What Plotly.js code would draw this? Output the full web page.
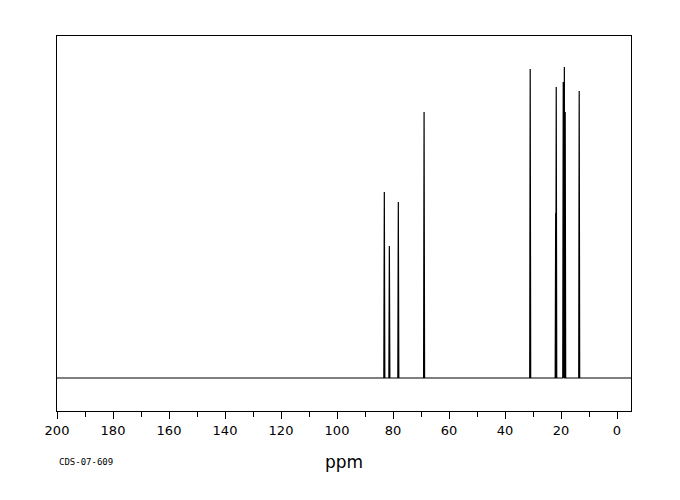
<!DOCTYPE html>
<html><head><meta charset="utf-8">
<script src="https://cdn.plot.ly/plotly-3.0.1.min.js"></script>
<style>body{margin:0;background:#fff}#c{width:680px;height:500px}</style>
</head><body><div id="c"></div>
<script>
// Peak positions (ppm) and heights (arbitrary intensity, baseline = 0)
const peakPpm    = [83.1, 81.3, 78.1, 68.9, 31.0, 21.9, 21.7, 19.2, 18.8, 18.5, 13.5];
const peakHeight = [186,  132,  176,  266,  309,  165,  291,  296,  311,  266,  287];
const xStart = 200, xEnd = -5;
const tickVals = [200,180,160,140,120,100,80,60,40,20,0];

// build spectrum trace from peak list
const order = peakPpm.map((p,i)=>i).sort((a,b)=>peakPpm[b]-peakPpm[a]);
const xs = [xStart], ys = [0];
const hw = 0.18;
order.forEach(i=>{
  xs.push(peakPpm[i]+hw, peakPpm[i], peakPpm[i]-hw);
  ys.push(0, peakHeight[i], 0);
});
xs.push(xEnd); ys.push(0);

const data = [{x: xs, y: ys, type:'scatter', mode:'lines',
  line:{color:'#000', width:1.2}, hoverinfo:'skip'}];

const layout = {
  width:680, height:500,
  margin:{l:57, r:49, t:36, b:89},
  paper_bgcolor:'#fff', plot_bgcolor:'#fff',
  showlegend:false,
  font:{family:'DejaVu Sans, sans-serif', color:'#000'},
  xaxis:{range:[xStart, xEnd], tickvals:tickVals, ticks:'outside', ticklen:7, tickwidth:1,
    tickcolor:'#000', showline:true, linecolor:'#000', linewidth:1, mirror:true,
    showgrid:false, zeroline:false, tickfont:{size:13, color:'#000'},
    minor:{dtick:10, tick0:0, ticks:'outside', ticklen:5, tickcolor:'#000', showgrid:false}},
  yaxis:{range:[-33, 342], showticklabels:false, ticks:'', showline:true, linecolor:'#000',
    linewidth:1, mirror:true, showgrid:false, zeroline:false},
  annotations:[
    {text:'ppm', xref:'paper', yref:'paper', x:0.5, y:-0.136, xanchor:'center', yanchor:'middle',
     showarrow:false, font:{size:17, color:'#000'}},
    {text:'CDS-07-609', xref:'paper', yref:'paper', x:0, y:-0.136, xanchor:'left', yanchor:'middle',
     showarrow:false, font:{size:9, color:'#000', family:'DejaVu Sans Mono, monospace'}}
  ]
};
Plotly.newPlot('c', data, layout, {staticPlot:true});
</script></body></html>
